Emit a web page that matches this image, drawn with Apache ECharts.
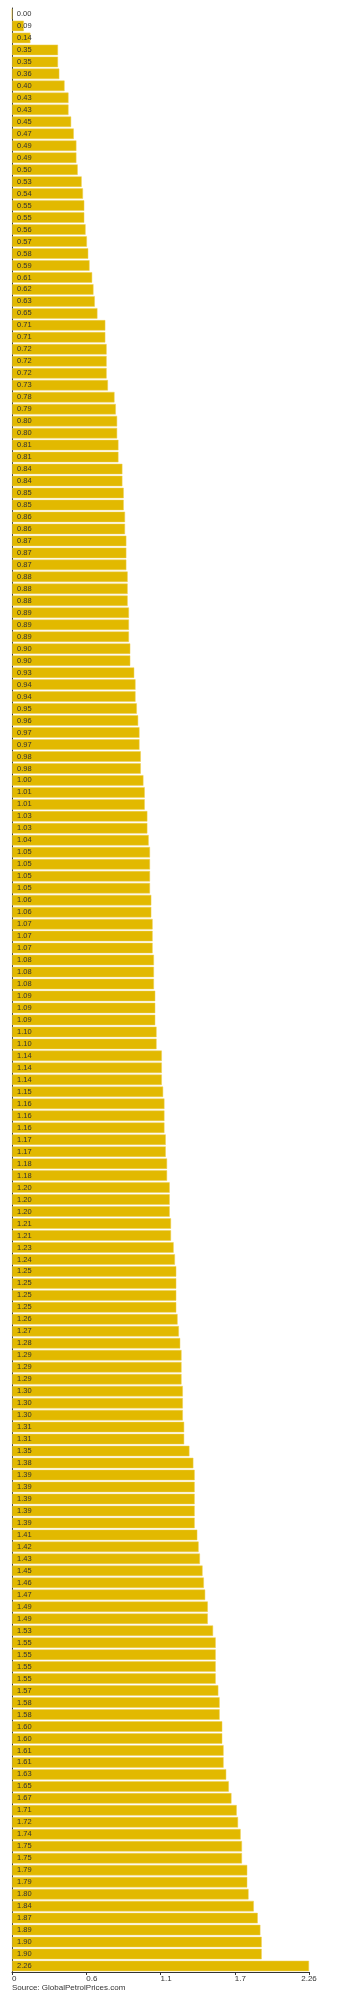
<!DOCTYPE html>
<html>
<head>
<meta charset="utf-8">
<script src="https://cdn.jsdelivr.net/npm/echarts@6/dist/echarts.min.js"></script>
<style>
html,body{margin:0;padding:0;background:#fff;}
#chart{width:337px;height:2000px;}
</style>
</head>
<body>
<div id="chart"></div>
<script>
const values = [
0.00,0.09,0.14,0.35,0.35,0.36,0.40,0.43,0.43,0.45,
0.47,0.49,0.49,0.50,0.53,0.54,0.55,0.55,0.56,0.57,
0.58,0.59,0.61,0.62,0.63,0.65,0.71,0.71,0.72,0.72,
0.72,0.73,0.78,0.79,0.80,0.80,0.81,0.81,0.84,0.84,
0.85,0.85,0.86,0.86,0.87,0.87,0.87,0.88,0.88,0.88,
0.89,0.89,0.89,0.90,0.90,0.93,0.94,0.94,0.95,0.96,
0.97,0.97,0.98,0.98,1.00,1.01,1.01,1.03,1.03,1.04,
1.05,1.05,1.05,1.05,1.06,1.06,1.07,1.07,1.07,1.08,
1.08,1.08,1.09,1.09,1.09,1.10,1.10,1.14,1.14,1.14,
1.15,1.16,1.16,1.16,1.17,1.17,1.18,1.18,1.20,1.20,
1.20,1.21,1.21,1.23,1.24,1.25,1.25,1.25,1.25,1.26,
1.27,1.28,1.29,1.29,1.29,1.30,1.30,1.30,1.31,1.31,
1.35,1.38,1.39,1.39,1.39,1.39,1.39,1.41,1.42,1.43,
1.45,1.46,1.47,1.49,1.49,1.53,1.55,1.55,1.55,1.55,
1.57,1.58,1.58,1.60,1.60,1.61,1.61,1.63,1.65,1.67,
1.71,1.72,1.74,1.75,1.75,1.79,1.79,1.80,1.84,1.87,
1.89,1.90,1.90,2.26
];
const categories = values.map((v, i) => String(i + 1));
const axisMax = 2.26;
const tickStep = 0.565;
const sourceText = 'Source: GlobalPetrolPrices.com';

const chart = echarts.init(document.getElementById('chart'), null, {renderer: 'canvas'});
chart.setOption({
  animation: false,
  backgroundColor: '#ffffff',
  textStyle: {fontFamily: 'Liberation Sans, Arial, sans-serif'},
  grid: {left: 12, right: 28, top: 8, bottom: 28, containLabel: false},
  xAxis: {
    type: 'value',
    min: 0,
    max: axisMax,
    interval: tickStep,
    axisLine: {show: true, lineStyle: {color: '#333', width: 1}},
    axisTick: {show: true, length: 3, lineStyle: {color: '#333'}},
    splitLine: {show: false},
    axisLabel: {
      fontSize: 8,
      color: '#333',
      margin: 3,
      align: 'left',
      alignMaxLabel: 'center',
      formatter: function (v) {
        if (v === 0) return '0';
        if (Math.abs(v - axisMax) < 1e-6) return axisMax.toFixed(2);
        return v.toFixed(1);
      }
    }
  },
  yAxis: {
    type: 'category',
    data: categories,
    inverse: true,
    axisLine: {show: true, lineStyle: {color: '#333', width: 1}},
    axisTick: {show: false},
    axisLabel: {show: false},
    splitLine: {show: false}
  },
  series: [{
    type: 'bar',
    data: values,
    barWidth: 10.5,
    itemStyle: {color: '#e2b900', borderColor: '#eccf55', borderWidth: 0.5},
    label: {
      show: true,
      position: 'insideLeft',
      distance: 5,
      fontSize: 7.5,
      color: '#333',
      formatter: function (p) { return p.value.toFixed(2); }
    }
  }],
  graphic: [{
    type: 'text',
    left: 12,
    top: 1984,
    style: {text: sourceText, fontSize: 8, fill: '#333', fontFamily: 'Liberation Sans, Arial, sans-serif'}
  }]
});
</script>
</body>
</html>
